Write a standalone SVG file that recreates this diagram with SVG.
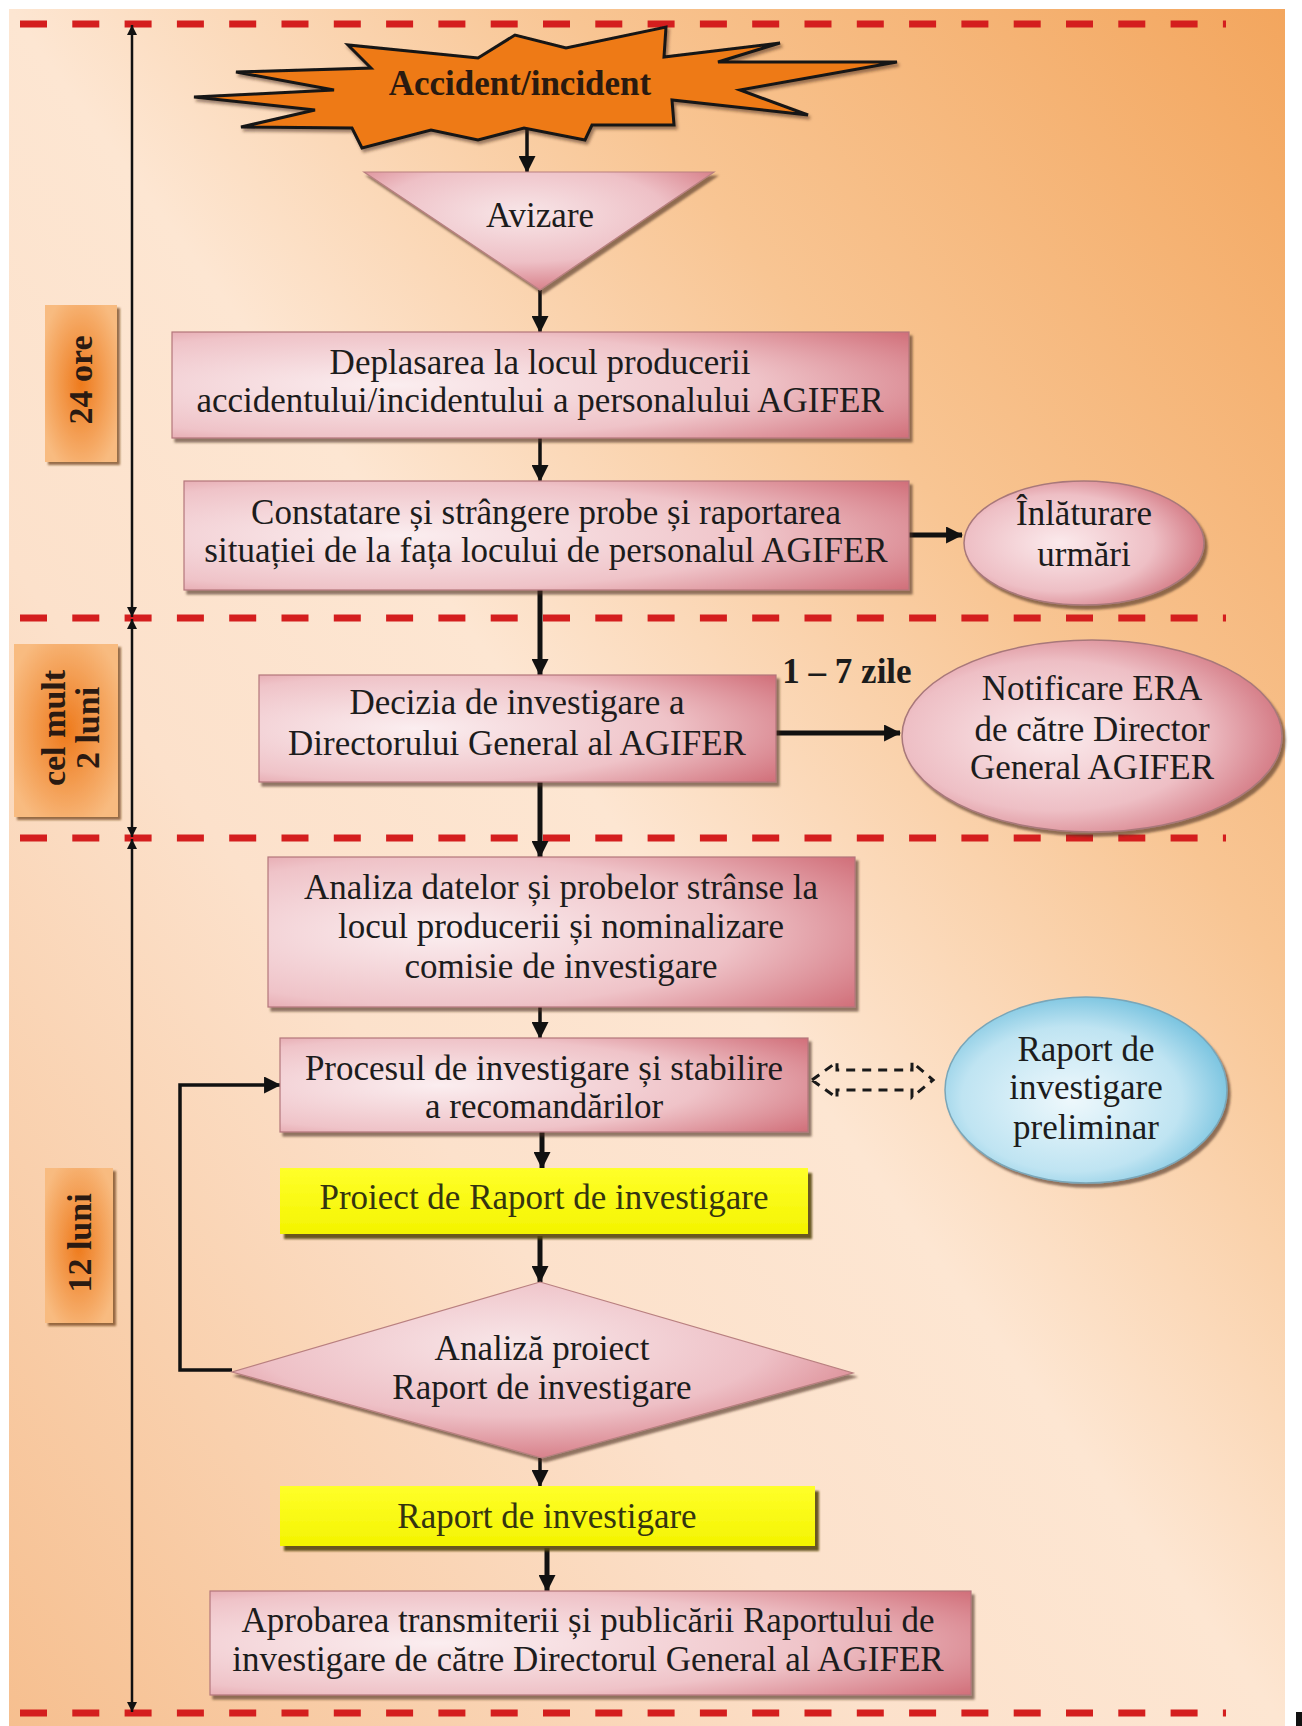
<svg xmlns="http://www.w3.org/2000/svg" width="1302" height="1726" viewBox="0 0 1302 1726">
<defs>
<style>
.t{font-family:"Liberation Serif","Times New Roman",serif;font-size:35px;fill:#1c1c1c;text-anchor:middle}
.b{font-weight:bold}
.lab{font-family:"Liberation Serif","Times New Roman",serif;font-size:34px;font-weight:bold;fill:#2a1a12;text-anchor:middle}
.ylw{fill:#343410}
.red{stroke:#d41e1e;stroke-width:7;stroke-dasharray:27 25.3;fill:none}
.ar{stroke:#111;stroke-width:3.5;fill:none;marker-end:url(#ah)}
.ar5{stroke:#111;stroke-width:5;fill:none;marker-end:url(#ah)}
.tl{stroke:#111;stroke-width:2.5;fill:none;marker-start:url(#sa);marker-end:url(#sa)}
.box{fill:url(#pink);stroke:#b3767b;stroke-width:1.2;filter:url(#sh)}
.ybox{fill:url(#yel);filter:url(#shY)}
.lbox{fill:url(#org);filter:url(#shL)}
</style>
<linearGradient id="bg" x1="1" y1="0" x2="0" y2="1">
<stop offset="0" stop-color="#f3a65e"/>
<stop offset="0.28" stop-color="#f8c593"/>
<stop offset="0.5" stop-color="#fde6d2"/>
<stop offset="0.66" stop-color="#fce1cb"/>
<stop offset="1" stop-color="#f6bf8f"/>
</linearGradient>
<radialGradient id="pink" cx="0.3" cy="0.5" r="0.9">
<stop offset="0" stop-color="#fbeef0"/>
<stop offset="0.55" stop-color="#efc3c8"/>
<stop offset="1" stop-color="#cd6570"/>
</radialGradient>
<radialGradient id="pinkE" cx="0.4" cy="0.5" r="0.65">
<stop offset="0" stop-color="#fbeaec"/>
<stop offset="0.6" stop-color="#eebfc5"/>
<stop offset="1" stop-color="#cf6d78"/>
</radialGradient>
<radialGradient id="blueE" cx="0.45" cy="0.55" r="0.65">
<stop offset="0" stop-color="#eef8fc"/>
<stop offset="0.6" stop-color="#bfe4f2"/>
<stop offset="1" stop-color="#5cb6d8"/>
</radialGradient>
<radialGradient id="pinkT" cx="0.45" cy="0.35" r="0.75">
<stop offset="0" stop-color="#f8e6e8"/>
<stop offset="0.55" stop-color="#eec0c6"/>
<stop offset="1" stop-color="#cf6873"/>
</radialGradient>
<linearGradient id="yel" x1="0" y1="0" x2="0" y2="1">
<stop offset="0" stop-color="#ffff2a"/>
<stop offset="1" stop-color="#f4f400"/>
</linearGradient>
<radialGradient id="org" cx="0.5" cy="0.5" r="0.6">
<stop offset="0" stop-color="#ee7a1c"/>
<stop offset="1" stop-color="#f8bb80"/>
</radialGradient>
<filter id="sh" x="-5%" y="-10%" width="115%" height="130%">
<feDropShadow dx="3" dy="4" stdDeviation="1.2" flood-color="#4a2a20" flood-opacity="0.6"/>
</filter>
<filter id="shY" x="-5%" y="-10%" width="115%" height="130%">
<feDropShadow dx="4" dy="5" stdDeviation="0.8" flood-color="#5a4a10" flood-opacity="0.9"/>
</filter>
<filter id="shL" x="-10%" y="-5%" width="130%" height="115%">
<feDropShadow dx="3" dy="3" stdDeviation="1" flood-color="#6a3a18" flood-opacity="0.7"/>
</filter>
<filter id="shB" x="-5%" y="-10%" width="115%" height="130%">
<feDropShadow dx="2" dy="3" stdDeviation="1.5" flood-color="#3a1a0a" flood-opacity="0.5"/>
</filter>
<marker id="ah" viewBox="0 0 16 16" refX="15" refY="8" markerWidth="17" markerHeight="17" markerUnits="userSpaceOnUse" orient="auto">
<path d="M0,0 L16,8 L0,16 z" fill="#111"/>
</marker>
<marker id="sa" viewBox="0 0 10 10" refX="10" refY="5" markerWidth="10" markerHeight="10" markerUnits="userSpaceOnUse" orient="auto-start-reverse">
<path d="M0,0 L10,5 L0,10 z" fill="#111"/>
</marker>
</defs>

<rect x="0" y="0" width="1302" height="1726" fill="#ffffff"/>
<rect x="9" y="9" width="1276" height="1717" fill="url(#bg)"/>
<rect x="1296" y="1712" width="6" height="14" fill="#111"/>

<g id="separators">
<line class="red" x1="20" y1="24" x2="1226" y2="24"/>
<line class="red" x1="20" y1="618" x2="1226" y2="618"/>
<line class="red" x1="20" y1="838" x2="1226" y2="838"/>
<line class="red" x1="20" y1="1713" x2="1226" y2="1713"/>
</g>

<g id="timeline">
<line class="tl" x1="132" y1="25" x2="132" y2="617"/>
<line class="tl" x1="132" y1="619" x2="132" y2="837"/>
<line class="tl" x1="132" y1="839" x2="132" y2="1712"/>
</g>

<g id="label-24ore">
<rect class="lbox" x="45" y="305" width="72" height="157"/>
<g transform="translate(81,380) rotate(-90)"><text class="lab" x="0" y="11">24 ore</text></g>
</g>
<g id="label-2luni">
<rect class="lbox" x="14" y="644" width="104" height="173"/>
<g transform="translate(70,728) rotate(-90)"><text class="lab" x="0" y="-5">cel mult</text><text class="lab" x="0" y="29">2 luni</text></g>
</g>
<g id="label-12luni">
<rect class="lbox" x="45" y="1168" width="68" height="155"/>
<g transform="translate(80,1243) rotate(-90)"><text class="lab" x="0" y="11">12 luni</text></g>
</g>

<g id="connectors">
<line class="ar" x1="527" y1="128" x2="527" y2="172"/>
<line class="ar" x1="540" y1="290" x2="540" y2="332"/>
<line class="ar" x1="540" y1="438" x2="540" y2="481"/>
<line class="ar5" x1="909" y1="535" x2="962" y2="535"/>
<line class="ar5" x1="540" y1="590" x2="540" y2="675"/>
<line class="ar5" x1="776" y1="733" x2="900" y2="733"/>
<line class="ar5" x1="540" y1="782" x2="540" y2="857"/>
<line class="ar" x1="540" y1="1007" x2="540" y2="1038"/>
<line class="ar5" x1="542" y1="1132" x2="542" y2="1168"/>
<line class="ar5" x1="540" y1="1236" x2="540" y2="1282"/>
<line class="ar" x1="540" y1="1458" x2="540" y2="1486"/>
<line class="ar5" x1="547" y1="1548" x2="547" y2="1591"/>
<polyline class="ar" points="232,1370 180,1370 180,1085 280,1085"/>
<path d="M812,1080 L837,1062 L837,1070 L912,1070 L912,1062 L933,1080 L912,1097 L912,1090 L837,1090 L837,1098 Z" fill="none" stroke="#1a1a1a" stroke-width="3" stroke-dasharray="9 7"/>
<text class="t b" x="847" y="683">1 – 7 zile</text>
</g>

<g id="accident">
<polygon points="666,27 664,57 780,43 718,62 897,62 740,90 808,115 672,100 674,125 592,125 585,140 524,128 478,140 431,130 362,148 352,128 241,127 315,110 194,97 334,90 236,72 371,68 348,45 478,58 515,35 566,48" fill="#ee7a12" stroke="#151515" stroke-width="3" stroke-linejoin="miter" filter="url(#shB)"/>
<text class="t b" x="520" y="95" style="fill:#2a1a10">Accident/incident</text>
</g>

<g id="avizare">
<polygon points="364,172 714,172 540,290" fill="url(#pinkT)" stroke="#b98080" stroke-width="1.2" filter="url(#sh)"/>
<text class="t" x="540" y="227">Avizare</text>
</g>

<g id="deplasarea">
<rect class="box" x="172" y="332" width="737" height="106"/>
<text class="t" x="540" y="374">Deplasarea la locul producerii</text>
<text class="t" x="540" y="412">accidentului/incidentului a personalului AGIFER</text>
</g>

<g id="constatare">
<rect class="box" x="184" y="481" width="725" height="109"/>
<text class="t" x="546" y="524">Constatare și strângere probe și raportarea</text>
<text class="t" x="546" y="562">situației de la fața locului de personalul AGIFER</text>
</g>

<g id="inlaturare">
<ellipse cx="1084" cy="543" rx="120" ry="62" fill="url(#pinkE)" stroke="#a8787a" stroke-width="1.5" filter="url(#sh)"/>
<text class="t" x="1084" y="525">Înlăturare</text>
<text class="t" x="1084" y="566">urmări</text>
</g>

<g id="decizia">
<rect class="box" x="259" y="675" width="517" height="107"/>
<text class="t" x="517" y="714">Decizia de investigare a</text>
<text class="t" x="517" y="755">Directorului General al AGIFER</text>
</g>

<g id="notificare">
<ellipse cx="1092" cy="736" rx="190" ry="96" fill="url(#pinkE)" stroke="#a8787a" stroke-width="1.5" filter="url(#sh)"/>
<text class="t" x="1092" y="700">Notificare ERA</text>
<text class="t" x="1092" y="741">de către Director</text>
<text class="t" x="1092" y="779">General AGIFER</text>
</g>

<g id="analiza">
<rect class="box" x="268" y="857" width="587" height="150"/>
<text class="t" x="561" y="899">Analiza datelor și probelor strânse la</text>
<text class="t" x="561" y="938">locul producerii și nominalizare</text>
<text class="t" x="561" y="978">comisie de investigare</text>
</g>

<g id="procesul">
<rect class="box" x="280" y="1038" width="528" height="94"/>
<text class="t" x="544" y="1080">Procesul de investigare și stabilire</text>
<text class="t" x="544" y="1118">a recomandărilor</text>
</g>

<g id="raport-preliminar">
<ellipse cx="1086" cy="1090" rx="141" ry="93" fill="url(#blueE)" stroke="#7aa6b8" stroke-width="1.5" filter="url(#sh)"/>
<text class="t" x="1086" y="1061">Raport de</text>
<text class="t" x="1086" y="1099">investigare</text>
<text class="t" x="1086" y="1139">preliminar</text>
</g>

<g id="proiect">
<rect class="ybox" x="280" y="1168" width="528" height="66"/>
<text class="t ylw" x="544" y="1209">Proiect de Raport de investigare</text>
</g>

<g id="analiza-proiect">
<polygon points="540,1282 853,1373 542,1458 232,1372" fill="url(#pinkT)" stroke="#b98080" stroke-width="1.2" filter="url(#sh)"/>
<text class="t" x="542" y="1360">Analiză proiect</text>
<text class="t" x="542" y="1399">Raport de investigare</text>
</g>

<g id="raport">
<rect class="ybox" x="280" y="1486" width="535" height="60"/>
<text class="t ylw" x="547" y="1528">Raport de investigare</text>
</g>

<g id="aprobarea">
<rect class="box" x="210" y="1591" width="761" height="104"/>
<text class="t" x="588" y="1632">Aprobarea transmiterii și publicării Raportului de</text>
<text class="t" x="588" y="1671">investigare de către Directorul General al AGIFER</text>
</g>
</svg>
